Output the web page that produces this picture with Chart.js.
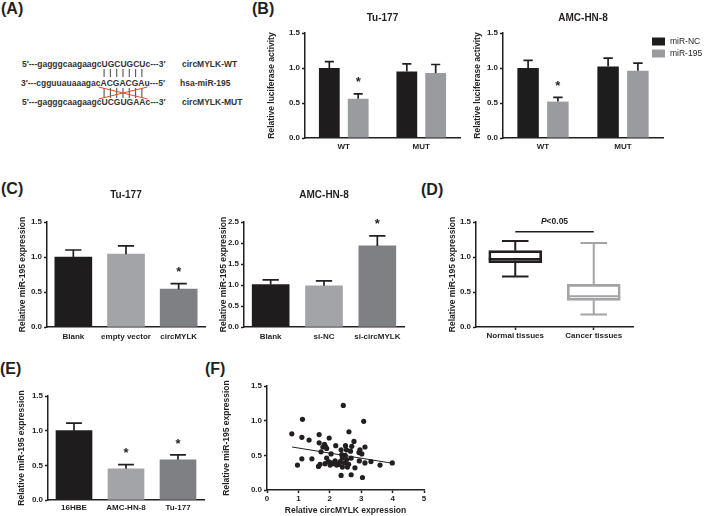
<!DOCTYPE html>
<html>
<head>
<meta charset="utf-8">
<script src="https://cdn.jsdelivr.net/npm/chart.js@4.4.1/dist/chart.umd.min.js"></script>
<style>
body { margin: 0; background: #fff; }
#page { position: relative; width: 720px; height: 516px; overflow: hidden; font-family: "Liberation Sans", Arial, sans-serif; color: #231f20; }
canvas { position: absolute; }
.tag { position: absolute; font-size: 16px; font-weight: bold; line-height: 16px; }
.seq { position: absolute; font-size: 8.5px; font-weight: bold; line-height: 10px; white-space: nowrap; color: #333; }
#lineas { position: absolute; left: 0; top: 0; }
</style>
</head>
<body>
<div id="page">
  <div class="tag" style="left:1px;top:1px">(A)</div>
  <div class="tag" style="left:252px;top:1px">(B)</div>
  <div class="tag" style="left:1px;top:181px">(C)</div>
  <div class="tag" style="left:421px;top:182px">(D)</div>
  <div class="tag" style="left:0px;top:361px">(E)</div>
  <div class="tag" style="left:205px;top:361px">(F)</div>

  <div class="seq" id="s1" style="left:22px;top:59px"></div>
  <div class="seq" id="s2" style="left:21px;top:78px"></div>
  <div class="seq" id="s3" style="left:22px;top:97px"></div>
  <div class="seq" style="left:182px;top:59px">circMYLK-WT</div>
  <div class="seq" style="left:180px;top:78px">hsa-miR-195</div>
  <div class="seq" style="left:182px;top:97px">circMYLK-MUT</div>
  <svg id="lineas" width="240" height="130"></svg>
</div>
<script>
// (A) secuencias
const secuencias = [
  "5′---gagggcaagaagcUGCUGCUc---3′",
  "3′---cgguuauaaagacACGACGAu---5′",
  "5′---gagggcaagaagcUCGUGAAc---3′"
]

// (B) luciferasa
const grupos = ['WT', 'MUT']
const tuNC = [1.0, 0.95]
const tuNCErr = [0.09, 0.11]
const tu195 = [0.56, 0.93]
const tu195Err = [0.07, 0.12]
const tuStars = ['*', '']
const amcNC = [1.0, 1.02]
const amcNCErr = [0.11, 0.12]
const amc195 = [0.52, 0.96]
const amc195Err = [0.06, 0.11]
const amcStars = ['*', '']

// (C) miR-195
const grupoTu = ['Blank', 'empty vector', 'circMYLK']
const valTu = [1.0, 1.04, 0.54]
const errTu = [0.1, 0.12, 0.08]
const starTu = ['', '', '*']
const grupoAmc = ['Blank', 'si-NC', 'si-circMYLK']
const valAmc = [1.01, 0.98, 1.93]
const errAmc = [0.11, 0.12, 0.24]
const starAmc = ['', '', '*']

// (D) tejidos
const tejidos = ['Normal tissues', 'Cancer tissues']
const boxMin = [0.72, 0.18]
const boxQ1 = [0.92, 0.38]
const boxMed = [0.97, 0.44]
const boxQ3 = [1.09, 0.61]
const boxMax = [1.23, 1.2]
const sigNivel = 1.36

// (E) lineas celulares
const celulas = ['16HBE', 'AMC-HN-8', 'Tu-177']
const valCel = [1.0, 0.45, 0.58]
const errCel = [0.11, 0.06, 0.07]
const starCel = ['', '*', '*']

// (F) correlacion
const circX = [2.43, 1.13, 3.08, 0.79, 1.66, 2.61, 1.11, 1.34, 1.98, 1.66, 2.77, 2.50, 2.19, 3.12, 1.83,
  1.86, 1.78, 1.90, 2.70, 2.36, 2.53, 2.66, 2.96, 3.02, 2.93, 1.72, 2.04, 2.38, 2.49, 1.11,
  0.97, 1.43, 1.64, 1.69, 1.90, 1.96, 2.06, 2.17, 2.25, 2.33, 2.40, 2.47, 2.54, 2.60, 2.68,
  2.80, 2.94, 3.12, 3.31, 3.60, 3.99, 2.36, 2.68, 3.04, 2.22, 2.40, 2.56, 2.11, 1.85, 2.01, 2.30]
const mirY = [1.22, 1.02, 0.99, 0.81, 0.80, 0.84, 0.76, 0.72, 0.75, 0.68, 0.70, 0.64, 0.64, 0.62, 0.66,
  0.63, 0.62, 0.60, 0.63, 0.58, 0.58, 0.56, 0.58, 0.52, 0.54, 0.55, 0.52, 0.51, 0.50, 0.45,
  0.36, 0.45, 0.34, 0.37, 0.46, 0.41, 0.39, 0.42, 0.37, 0.41, 0.46, 0.39, 0.44, 0.37, 0.46,
  0.32, 0.42, 0.39, 0.41, 0.36, 0.39, 0.21, 0.22, 0.18, 0.36, 0.33, 0.33, 0.38, 0.38, 0.36, 0.37]
const ajusteX = [0.8, 4.0]
const ajusteY = [0.62, 0.385]

const ink = '#231f20'
const negro = '#1f1c1d'
const grisB = '#9a9b9f'
const claro = '#a2a4a7'
const medio = '#7f8084'

Chart.defaults.font.family = '"Liberation Sans", Arial, sans-serif'
Chart.defaults.color = ink

const page = document.getElementById('page')

// texto del panel A
secuencias.forEach((s, i) => {
  document.getElementById('s' + (i + 1)).innerHTML = s.replace(/([A-Z])/g, '<span>$1</span>')
})

function marcarPares() {
  const arriba = document.querySelectorAll('#s1 span')
  const centro = document.querySelectorAll('#s2 span')
  let html = ''
  centro.forEach((m, i) => {
    const r1 = arriba[i].getBoundingClientRect()
    const r2 = m.getBoundingClientRect()
    const x = ((r1.left + r1.right) / 2 + (r2.left + r2.right) / 2) / 2
    html += `<line x1="${x}" y1="69" x2="${x}" y2="77" stroke="#444" stroke-width="1"/>`
    html += `<line x1="${x}" y1="88" x2="${x}" y2="98" stroke="#444" stroke-width="1"/>`
  })
  const a = centro[0].getBoundingClientRect().left - 2
  const b = centro[centro.length - 1].getBoundingClientRect().right + 3
  html += `<line x1="${a}" y1="87" x2="${b}" y2="99" stroke="#e04a2f" stroke-width="1"/>`
  html += `<line x1="${a}" y1="99" x2="${b}" y2="87" stroke="#e04a2f" stroke-width="1"/>`
  document.getElementById('lineas').innerHTML = html
}
marcarPares()

function lienzo(left, top, w, h) {
  const c = document.createElement('canvas')
  c.width = w
  c.height = h
  c.style.left = left + 'px'
  c.style.top = top + 'px'
  page.appendChild(c)
  return c
}

function ejeY(max, ancho, titulo) {
  return {
    min: 0, max: max,
    afterFit: s => { s.width = ancho },
    ticks: { stepSize: 0.5, padding: 2, font: { size: 8, weight: 'bold' }, callback: v => v.toFixed(1) },
    grid: { drawOnChartArea: false, tickLength: 3, tickColor: ink, tickWidth: 1.5 },
    border: { color: ink, width: 1.5 },
    title: { display: true, text: titulo, padding: 0, font: { size: 8.5, weight: 'bold' } }
  }
}

function ejeX(alto, pad, marcas) {
  return {
    afterFit: s => { s.height = alto },
    ticks: { padding: pad, autoSkip: false, maxRotation: 0, font: { size: 8, weight: 'bold' } },
    grid: { drawOnChartArea: false, drawTicks: marcas, tickLength: 3, tickColor: ink, tickWidth: 1.5, offset: false },
    border: { color: ink, width: 1.5 }
  }
}

function titulo(texto, arriba, abajo) {
  return { display: true, text: texto, fullSize: false, padding: { top: arriba, bottom: abajo }, font: { size: 10, weight: 'bold' } }
}

// barras de error y asteriscos
const errores = {
  id: 'errores',
  afterDatasetsDraw(chart) {
    const ctx = chart.ctx
    const y = chart.scales.y
    chart.data.datasets.forEach((ds, i) => {
      if (!ds.errors) return
      chart.getDatasetMeta(i).data.forEach((bar, j) => {
        const top = y.getPixelForValue(ds.data[j] + ds.errors[j])
        const half = bar.width * 0.22
        ctx.save()
        ctx.strokeStyle = ink
        ctx.lineWidth = 1.7
        ctx.beginPath()
        ctx.moveTo(bar.x, bar.y)
        ctx.lineTo(bar.x, top)
        ctx.moveTo(bar.x - half, top)
        ctx.lineTo(bar.x + half, top)
        ctx.stroke()
        if (ds.stars && ds.stars[j]) {
          ctx.fillStyle = ink
          ctx.font = 'bold 13px "Liberation Sans"'
          ctx.textAlign = 'center'
          ctx.textBaseline = 'middle'
          ctx.fillText(ds.stars[j], bar.x, top - 11)
        }
        ctx.restore()
      })
    })
  }
}

const leyenda = {
  id: 'leyenda',
  afterDraw(chart) {
    const ctx = chart.ctx
    const x = chart.chartArea.right - 11
    chart.data.datasets.forEach((ds, i) => {
      const y = chart.chartArea.top + 8.5 + i * 12
      ctx.fillStyle = ds.backgroundColor
      ctx.fillRect(x, y - 4, 13, 8)
      ctx.fillStyle = ink
      ctx.font = '8.5px "Liberation Sans"'
      ctx.textBaseline = 'middle'
      ctx.fillText(ds.label, x + 18, y)
    })
  }
}

function barras(c, etiquetas, series, o) {
  return new Chart(c, {
    type: 'bar',
    data: { labels: etiquetas, datasets: series },
    options: {
      responsive: false, animation: false, devicePixelRatio: 1,
      layout: { padding: o.padding },
      plugins: { legend: { display: false }, tooltip: { enabled: false }, title: o.title || { display: false } },
      scales: { x: ejeX(o.xH, o.xPad, false), y: ejeY(o.max, o.yW, o.yTitle) }
    },
    plugins: [errores].concat(o.plugins || [])
  })
}

function pares(nc, ncErr, m195, m195Err, stars) {
  return [
    { label: 'miR-NC', data: nc, errors: ncErr, backgroundColor: negro, categoryPercentage: 0.745, barPercentage: 0.72 },
    { label: 'miR-195', data: m195, errors: m195Err, stars: stars, backgroundColor: grisB, categoryPercentage: 0.745, barPercentage: 0.72 }
  ]
}

// (B)
barras(lienzo(267, 0, 197, 156), grupos, pares(tuNC, tuNCErr, tu195, tu195Err, tuStars), {
  padding: { left: 0, right: 4, top: 0, bottom: 0 }, title: titulo('Tu-177', 12, 9),
  xH: 18, xPad: 4, max: 1.5, yW: 38, yTitle: 'Relative luciferase activity'
})
barras(lienzo(473, 0, 247, 156), grupos, pares(amcNC, amcNCErr, amc195, amc195Err, amcStars), {
  padding: { left: 0, right: 57, top: 0, bottom: 0 }, title: titulo('AMC-HN-8', 12, 9),
  xH: 18, xPad: 4, max: 1.5, yW: 30, yTitle: 'Relative luciferase activity', plugins: [leyenda]
})

// (C)
barras(lienzo(18, 180, 191, 165), grupoTu, [
  { data: valTu, errors: errTu, stars: starTu, backgroundColor: [negro, claro, medio], barThickness: 37 }
], {
  padding: { left: 0, right: 4, top: 0, bottom: 0 }, title: titulo('Tu-177', 9, 21),
  xH: 18, xPad: 5, max: 1.5, yW: 29, yTitle: 'Relative miR-195 expression'
})
barras(lienzo(219, 180, 189, 165), grupoAmc, [
  { data: valAmc, errors: errAmc, stars: starAmc, backgroundColor: [negro, claro, medio], barThickness: 37 }
], {
  padding: { left: 0, right: 4, top: 0, bottom: 0 }, title: titulo('AMC-HN-8', 9, 21),
  xH: 18, xPad: 5, max: 2.5, yW: 25, yTitle: 'Relative miR-195 expression'
})

// (E)
barras(lienzo(17, 375, 191, 141), celulas, [
  { data: valCel, errors: errCel, stars: starCel, backgroundColor: [negro, claro, medio], barThickness: 36 }
], {
  padding: { left: 0, right: 4, top: 21, bottom: 0 },
  xH: 16, xPad: 3, max: 1.5, yW: 31, yTitle: 'Relative miR-195 expression'
})

// (D) diagrama de cajas
const colorCaja = [ink, '#a3a4a6']
const bigotes = {
  id: 'bigotes',
  afterDatasetsDraw(chart) {
    const ctx = chart.ctx
    const y = chart.scales.y
    chart.getDatasetMeta(0).data.forEach((box, j) => {
      const half = box.width / 2
      const yMax = y.getPixelForValue(boxMax[j])
      const yMin = y.getPixelForValue(boxMin[j])
      const yQ3 = y.getPixelForValue(boxQ3[j])
      const yQ1 = y.getPixelForValue(boxQ1[j])
      const yMed = y.getPixelForValue(boxMed[j])
      ctx.save()
      ctx.strokeStyle = colorCaja[j]
      ctx.lineWidth = 2
      ctx.beginPath()
      ctx.moveTo(box.x - half, yMed)
      ctx.lineTo(box.x + half, yMed)
      ctx.moveTo(box.x, yQ3)
      ctx.lineTo(box.x, yMax)
      ctx.moveTo(box.x - half / 2, yMax)
      ctx.lineTo(box.x + half / 2, yMax)
      ctx.moveTo(box.x, yQ1)
      ctx.lineTo(box.x, yMin)
      ctx.moveTo(box.x - half / 2, yMin)
      ctx.lineTo(box.x + half / 2, yMin)
      ctx.stroke()
      ctx.restore()
    })
  }
}
const significancia = {
  id: 'significancia',
  afterDraw(chart) {
    const ctx = chart.ctx
    const x0 = chart.scales.x.getPixelForValue(0)
    const x1 = chart.scales.x.getPixelForValue(1)
    const yy = chart.scales.y.getPixelForValue(sigNivel)
    ctx.save()
    ctx.strokeStyle = ink
    ctx.lineWidth = 1.5
    ctx.beginPath()
    ctx.moveTo(x0, yy)
    ctx.lineTo(x1, yy)
    ctx.stroke()
    ctx.fillStyle = ink
    ctx.textBaseline = 'middle'
    ctx.font = 'italic bold 8.5px "Liberation Sans"'
    const wP = ctx.measureText('P').width
    ctx.font = 'bold 8.5px "Liberation Sans"'
    const wR = ctx.measureText('<0.05').width
    const sx = (x0 + x1) / 2 - (wP + wR) / 2
    ctx.font = 'italic bold 8.5px "Liberation Sans"'
    ctx.fillText('P', sx, yy - 10)
    ctx.font = 'bold 8.5px "Liberation Sans"'
    ctx.fillText('<0.05', sx + wP, yy - 10)
    ctx.restore()
  }
}
new Chart(lienzo(448, 200, 191, 145), {
  type: 'bar',
  data: {
    labels: tejidos,
    datasets: [{
      data: boxQ1.map((q, i) => [q, boxQ3[i]]),
      backgroundColor: 'rgba(0,0,0,0)', borderColor: colorCaja, borderWidth: 2,
      borderSkipped: false, barThickness: 53
    }]
  },
  options: {
    responsive: false, animation: false, devicePixelRatio: 1,
    layout: { padding: { left: 0, right: 6, top: 22, bottom: 0 } },
    plugins: { legend: { display: false }, tooltip: { enabled: false } },
    scales: { x: ejeX(18, 1, true), y: ejeY(1.5, 28, 'Relative miR-195 expression') }
  },
  plugins: [bigotes, significancia]
})

// (F) dispersion
new Chart(lienzo(222, 370, 210, 146), {
  type: 'scatter',
  data: {
    datasets: [
      { data: circX.map((x, i) => ({ x: x, y: mirY[i] })), backgroundColor: ink, pointRadius: 2.6, borderWidth: 0 },
      { data: ajusteX.map((x, i) => ({ x: x, y: ajusteY[i] })), showLine: true, borderColor: ink, borderWidth: 1, pointRadius: 0 }
    ]
  },
  options: {
    responsive: false, animation: false, devicePixelRatio: 1,
    layout: { padding: { left: 0, right: 8, top: 16, bottom: 0 } },
    plugins: { legend: { display: false }, tooltip: { enabled: false } },
    scales: {
      x: {
        min: 0, max: 5,
        afterFit: s => { s.height = 26 },
        ticks: { stepSize: 1, padding: 1, font: { size: 8, weight: 'bold' } },
        grid: { drawOnChartArea: false, tickLength: 3, tickColor: ink, tickWidth: 1.5 },
        border: { color: ink, width: 1.5 },
        title: { display: true, text: 'Relative circMYLK expression', padding: 0, font: { size: 8.5, weight: 'bold' } }
      },
      y: ejeY(1.5, 45, 'Relative miR-195 expression')
    }
  }
})
</script>
</body>
</html>
